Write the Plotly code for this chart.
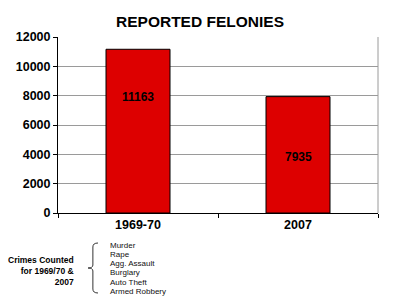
import plotly.graph_objects as go

categories = ["1969-70", "2007"]
values = [11163, 7935]
label_y = [7930, 3820]
crime_list = ["Murder", "Rape", "Agg. Assault", "Burglary", "Auto Theft", "Armed Robbery"]
y_ticks = [0, 2000, 4000, 6000, 8000, 10000, 12000]

FONT = "Liberation Sans, Arial, sans-serif"

fig = go.Figure()
fig.add_trace(go.Bar(
    x=categories, y=values, width=0.4,
    marker=dict(color="#DD0000", line=dict(color="#000000", width=1)),
    hoverinfo="skip",
))

for i, (v, ly) in enumerate(zip(values, label_y)):
    fig.add_annotation(x=i, y=ly, text=f"<b>{v}</b>", showarrow=False,
                       font=dict(family=FONT, size=12, color="black"))

fig.update_layout(
    width=400, height=300,
    margin=dict(l=58, r=22, t=37, b=87),
    paper_bgcolor="white", plot_bgcolor="white",
    showlegend=False,
    title=dict(text="<b>REPORTED FELONIES</b>", x=0.5, xanchor="center",
               y=1 - 21.5 / 300, yanchor="middle",
               font=dict(family=FONT, size=15.5, color="black")),
    font=dict(family=FONT, color="black"),
)
fig.update_yaxes(range=[0, 12000], tickvals=y_ticks,
                 ticktext=[f"<b>{t}</b>" for t in y_ticks],
                 showgrid=True, gridcolor="#9a9a9a", gridwidth=1,
                 showline=True, linecolor="black", linewidth=1,
                 ticks="outside", ticklen=4, tickcolor="black",
                 tickfont=dict(family=FONT, size=12.5, color="black"),
                 zeroline=False)
fig.update_xaxes(type="category", range=[-0.5, 1.5],
                 tickvals=categories, ticktext=[f"<b>{c}</b>" for c in categories],
                 showline=True, linecolor="black", linewidth=1,
                 ticks="outside", ticklen=4, tickcolor="black", tickson="boundaries",
                 tickfont=dict(family=FONT, size=12.5, color="black"),
                 showgrid=False)

# right border of plot area
fig.add_shape(type="line", xref="paper", yref="paper", x0=1, x1=1, y0=0, y1=1,
              line=dict(color="#9a9a9a", width=1))

# footnote
fig.add_annotation(xref="paper", yref="paper", x=(76 - 58) / 320, y=(213 - 271) / 176,
                   xanchor="right", yanchor="middle", align="right", showarrow=False,
                   text="<b>Crimes Counted<br>for 1969/70 &<br>2007</b>",
                   font=dict(family=FONT, size=8.5, color="black"))
fig.add_shape(type="path", xref="paper", yref="paper",
              path="M 0.125,-0.1705 Q 0.109,-0.1705 0.109,-0.193 L 0.109,-0.2955 "
                   "Q 0.109,-0.3125 0.094,-0.3125 Q 0.109,-0.3125 0.109,-0.3295 "
                   "L 0.109,-0.432 Q 0.109,-0.4545 0.125,-0.4545",
              line=dict(color="#333333", width=1))
for i, name in enumerate(crime_list):
    py = 245 + i * 9.3
    fig.add_annotation(xref="paper", yref="paper", x=(108 - 58) / 320, y=(213 - py) / 176,
                       xanchor="left", yanchor="middle", showarrow=False,
                       text=name, font=dict(family=FONT, size=8, color="#111111"))

fig.write_html("out.html")
